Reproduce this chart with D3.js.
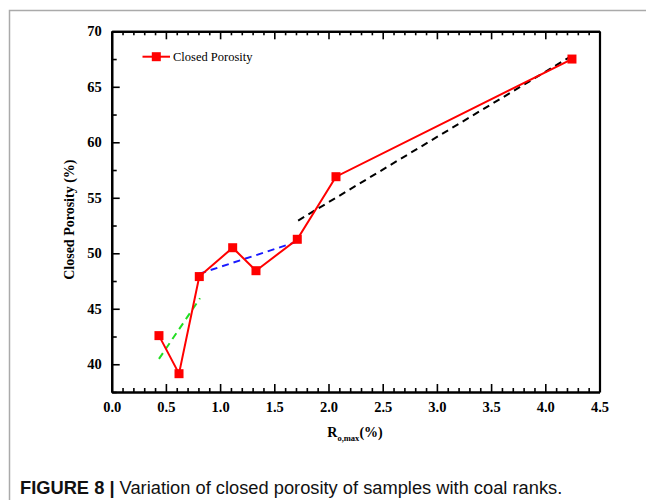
<!DOCTYPE html>
<html>
<head>
<meta charset="utf-8">
<script src="https://cdn.jsdelivr.net/npm/d3@7"></script>
<style>
  body { margin: 0; background: #fff; }
  svg { display: block; }
</style>
</head>
<body>
<div id="chart"></div>
<script>
// data
var rank = [0.436, 0.621, 0.808, 1.116, 1.331, 1.712, 2.069, 4.246];
var porosity = [42.58, 39.15, 47.9, 50.5, 48.43, 51.26, 56.9, 67.5];

// dashed fit segments
var fitNames = ['green', 'blue', 'black'];
var fitX = [[0.436, 0.815], [0.808, 1.712], [1.72, 4.26]];
var fitY = [[40.48, 45.95], [48.15, 51.05], [52.95, 67.88]];
var fitColors = ['#22dd22', '#1a1aff', '#000000'];

var xTicks = [0, 0.5, 1, 1.5, 2, 2.5, 3, 3.5, 4, 4.5];
var yTicks = [40, 45, 50, 55, 60, 65, 70];

var width = 646, height = 500;
var plot = {left: 111.7, right: 599.5, top: 31.3, bottom: 392};

var svg = d3.select('#chart').append('svg')
  .attr('width', width)
  .attr('height', height);

// page frame
svg.append('path')
  .attr('d', 'M9.5,500 V10.5 H646')
  .attr('fill', 'none')
  .attr('stroke', '#aaa')
  .attr('stroke-width', 1.5);

var x = d3.scaleLinear().domain([0, 4.5]).range([plot.left, plot.right]);
var y = d3.scaleLinear().domain([37.5, 70]).range([plot.bottom, plot.top]);

// minor ticks
var xMinor = d3.range(0, 4.501, 0.1).filter(function (v) { return Math.abs(v * 2 - Math.round(v * 2)) > 1e-6; });
var yMinor = d3.range(37.5, 70.01, 2.5).filter(function (v) { return v % 5 !== 0; });

var g = svg.append('g');

// bottom axis, ticks inward
g.append('g')
  .attr('transform', 'translate(0,' + plot.bottom + ')')
  .call(d3.axisBottom(x).tickValues(xTicks).tickFormat(d3.format('.1f')).tickSizeInner(-8).tickSizeOuter(0).tickPadding(10));
g.append('g')
  .attr('transform', 'translate(0,' + plot.bottom + ')')
  .call(d3.axisBottom(x).tickValues(xMinor).tickFormat('').tickSizeInner(-4).tickSizeOuter(0));

// top axis
g.append('g')
  .attr('transform', 'translate(0,' + plot.top + ')')
  .call(d3.axisTop(x).tickValues(xTicks).tickFormat('').tickSizeInner(-8).tickSizeOuter(0));
g.append('g')
  .attr('transform', 'translate(0,' + plot.top + ')')
  .call(d3.axisTop(x).tickValues(xMinor).tickFormat('').tickSizeInner(-4).tickSizeOuter(0));

// left axis
g.append('g')
  .attr('transform', 'translate(' + plot.left + ',0)')
  .call(d3.axisLeft(y).tickValues(yTicks).tickFormat(d3.format('d')).tickSizeInner(-8).tickSizeOuter(0).tickPadding(10));
g.append('g')
  .attr('transform', 'translate(' + plot.left + ',0)')
  .call(d3.axisLeft(y).tickValues(yMinor).tickFormat('').tickSizeInner(-5).tickSizeOuter(0));

// right axis, plain line
g.append('g')
  .attr('transform', 'translate(' + plot.right + ',0)')
  .call(d3.axisRight(y).tickValues([]).tickSizeOuter(0));

g.selectAll('.domain').attr('stroke', '#000').attr('stroke-width', 2.2);
g.selectAll('.tick line').attr('stroke', '#000').attr('stroke-width', 1.6);
g.selectAll('.tick text')
  .attr('fill', '#000')
  .style('font-family', '"Liberation Serif", serif')
  .style('font-weight', 'bold')
  .style('font-size', '14.5px');

// dashed fits
fitNames.forEach(function (name, i) {
  svg.append('line')
    .attr('class', 'fit-' + name)
    .attr('x1', x(fitX[i][0])).attr('y1', y(fitY[i][0]))
    .attr('x2', x(fitX[i][1])).attr('y2', y(fitY[i][1]))
    .attr('stroke', fitColors[i])
    .attr('stroke-width', 2)
    .attr('stroke-dasharray', '7,5');
});

// red series
var pts = rank.map(function (r, i) { return [r, porosity[i]]; });
svg.append('path')
  .datum(pts)
  .attr('fill', 'none')
  .attr('stroke', '#ff0000')
  .attr('stroke-width', 2)
  .attr('d', d3.line().x(function (d) { return x(d[0]); }).y(function (d) { return y(d[1]); }));

var ms = 9;
svg.selectAll('rect.pt')
  .data(pts)
  .enter().append('rect')
  .attr('class', 'pt')
  .attr('x', function (d) { return x(d[0]) - ms / 2; })
  .attr('y', function (d) { return y(d[1]) - ms / 2; })
  .attr('width', ms).attr('height', ms)
  .attr('fill', '#ff0000');

// legend
svg.append('line')
  .attr('x1', 142.5).attr('x2', 170).attr('y1', 56.7).attr('y2', 56.7)
  .attr('stroke', '#ff0000').attr('stroke-width', 2);
svg.append('rect')
  .attr('x', 156.3 - ms / 2).attr('y', 56.7 - ms / 2)
  .attr('width', ms).attr('height', ms).attr('fill', '#ff0000');
svg.append('text')
  .attr('x', 173).attr('y', 61)
  .style('font-family', '"Liberation Serif", serif')
  .style('font-size', '12.5px')
  .text('Closed Porosity');

// axis titles
svg.append('text')
  .attr('transform', 'translate(74,' + ((plot.top + plot.bottom) / 2 + 8) + ') rotate(-90)')
  .attr('text-anchor', 'middle')
  .style('font-family', '"Liberation Serif", serif')
  .style('font-weight', 'bold')
  .style('font-size', '14px')
  .text('Closed Porosity (%)');

var xt = svg.append('text')
  .attr('x', 355).attr('y', 437)
  .attr('text-anchor', 'middle')
  .style('font-family', '"Liberation Serif", serif')
  .style('font-weight', 'bold')
  .style('font-size', '14px');
xt.append('tspan').text('R');
xt.append('tspan').attr('dy', 4).style('font-size', '8.5px').text('o,max');
xt.append('tspan').attr('dy', -4).text('(%)');

// caption
var cap = svg.append('text')
  .attr('x', 20).attr('y', 494)
  .style('font-family', '"Liberation Sans", Arial, sans-serif')
  .style('font-size', '18.3px')
  .attr('fill', '#111');
cap.append('tspan').style('font-weight', 'bold').text('FIGURE 8 | ');
cap.append('tspan').text('Variation of closed porosity of samples with coal ranks.');
</script>
</body>
</html>
